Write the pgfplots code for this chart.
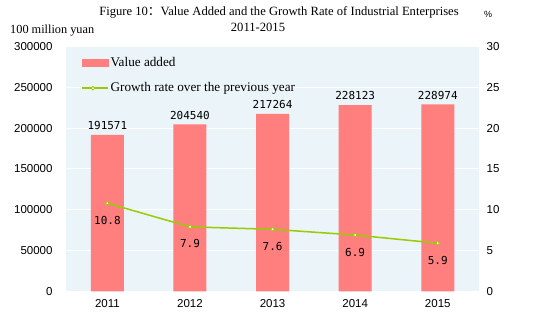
\documentclass[border=0pt]{standalone}
\usepackage{pgfplots}
\pgfplotsset{compat=1.18}
\usepackage{fontspec}
\setmainfont{Liberation Serif}
\newfontfamily\tickfont{Liberation Sans}
\newfontfamily\labfont{DejaVu Sans Mono}
\newfontfamily\cjk{Noto Sans CJK SC}
\definecolor{bgblue}{RGB}{235,244,248}
\definecolor{barred}{RGB}{255,127,127}
\definecolor{linegreen}{RGB}{153,204,0}
\begin{document}
\begin{tikzpicture}[x=1pt,y=1pt]
\useasboundingbox (0,0) rectangle (549,322);
\pgfplotsset{
  common/.style={
    at={(80,37.5)}, anchor=south west, scale only axis,
    width=413pt, height=245pt,
    xmin=-0.5, xmax=4.5,
    major tick length=0pt,
    axis line style={draw=none},
    /pgf/number format/assume math mode=true,
    ticklabel style={font=\tickfont\fontsize{11.5}{13}\selectfont},
  }
}
\begin{axis}[common,
  ymin=0, ymax=300000,
  axis y line*=left, axis x line*=bottom,
  axis background/.style={fill=bgblue},
  ytick={0,50000,100000,150000,200000,250000,300000},
  ymajorgrids, grid style={white, line width=0.8pt},
  scaled y ticks=false,
  yticklabel style={/pgf/number format/fixed, /pgf/number format/1000 sep={}, xshift=-10pt},
  xtick={0,1,2,3,4}, xticklabels={2011,2012,2013,2014,2015},
  xticklabel style={yshift=-5pt},
]
\addplot[ybar, bar width=33pt, fill=barred, draw=none,
  nodes near coords,
  nodes near coords style={font=\labfont\fontsize{11}{13}\selectfont, text=black,
    /pgf/number format/fixed, /pgf/number format/1000 sep={}, yshift=1.5pt}]
  coordinates {(0,191571) (1,204540) (2,217264) (3,228123) (4,228974)};
\end{axis}
\begin{axis}[common,
  ymin=0, ymax=30,
  axis y line*=right, hide x axis,
  ytick={0,5,10,15,20,25,30},
  yticklabel style={xshift=4pt},
  legend style={at={(0.036,0.965)}, anchor=north west, draw=none, fill=none,
    font=\fontsize{13.2}{15}\selectfont, row sep=11pt, inner sep=0pt},
  legend cell align=left,
]
\addlegendimage{legend image code/.code={\fill[barred] (0pt,-3.5pt) rectangle (26pt,3.5pt);}}
\addlegendentry{Value added}
\addplot[linegreen, line width=1.5pt, mark=*, mark size=1.8pt,
  mark options={fill=white, draw=linegreen, line width=0.8pt},
  legend image code/.code={\draw[linegreen,line width=1.5pt] (0pt,0pt) -- (26pt,0pt); \draw[linegreen,fill=white,line width=0.8pt] (11pt,0pt) circle (1.8pt);},
  nodes near coords,
  nodes near coords style={font=\labfont\fontsize{11}{13}\selectfont, text=black,
    /pgf/number format/fixed, /pgf/number format/fixed zerofill, /pgf/number format/precision=1,
    anchor=center, yshift=-17pt}]
  coordinates {(0,10.8) (1,7.9) (2,7.6) (3,6.9) (4,5.9)};
\addlegendentry{Growth rate over the previous year}
\end{axis}
\node[font=\fontsize{12.6}{15}\selectfont] at (279,310) {Figure 10{\cjk ：}Value Added and the Growth Rate of Industrial Enterprises};
\node[font=\fontsize{12.6}{15}\selectfont] at (258,295) {2011-2015};
\node[font=\fontsize{12.3}{14}\selectfont, anchor=base west, inner sep=0pt] at (10,288) {100 million yuan};
\node[font=\tickfont\fontsize{9}{11}\selectfont] at (488,308) {\%};
\end{tikzpicture}
\end{document}
